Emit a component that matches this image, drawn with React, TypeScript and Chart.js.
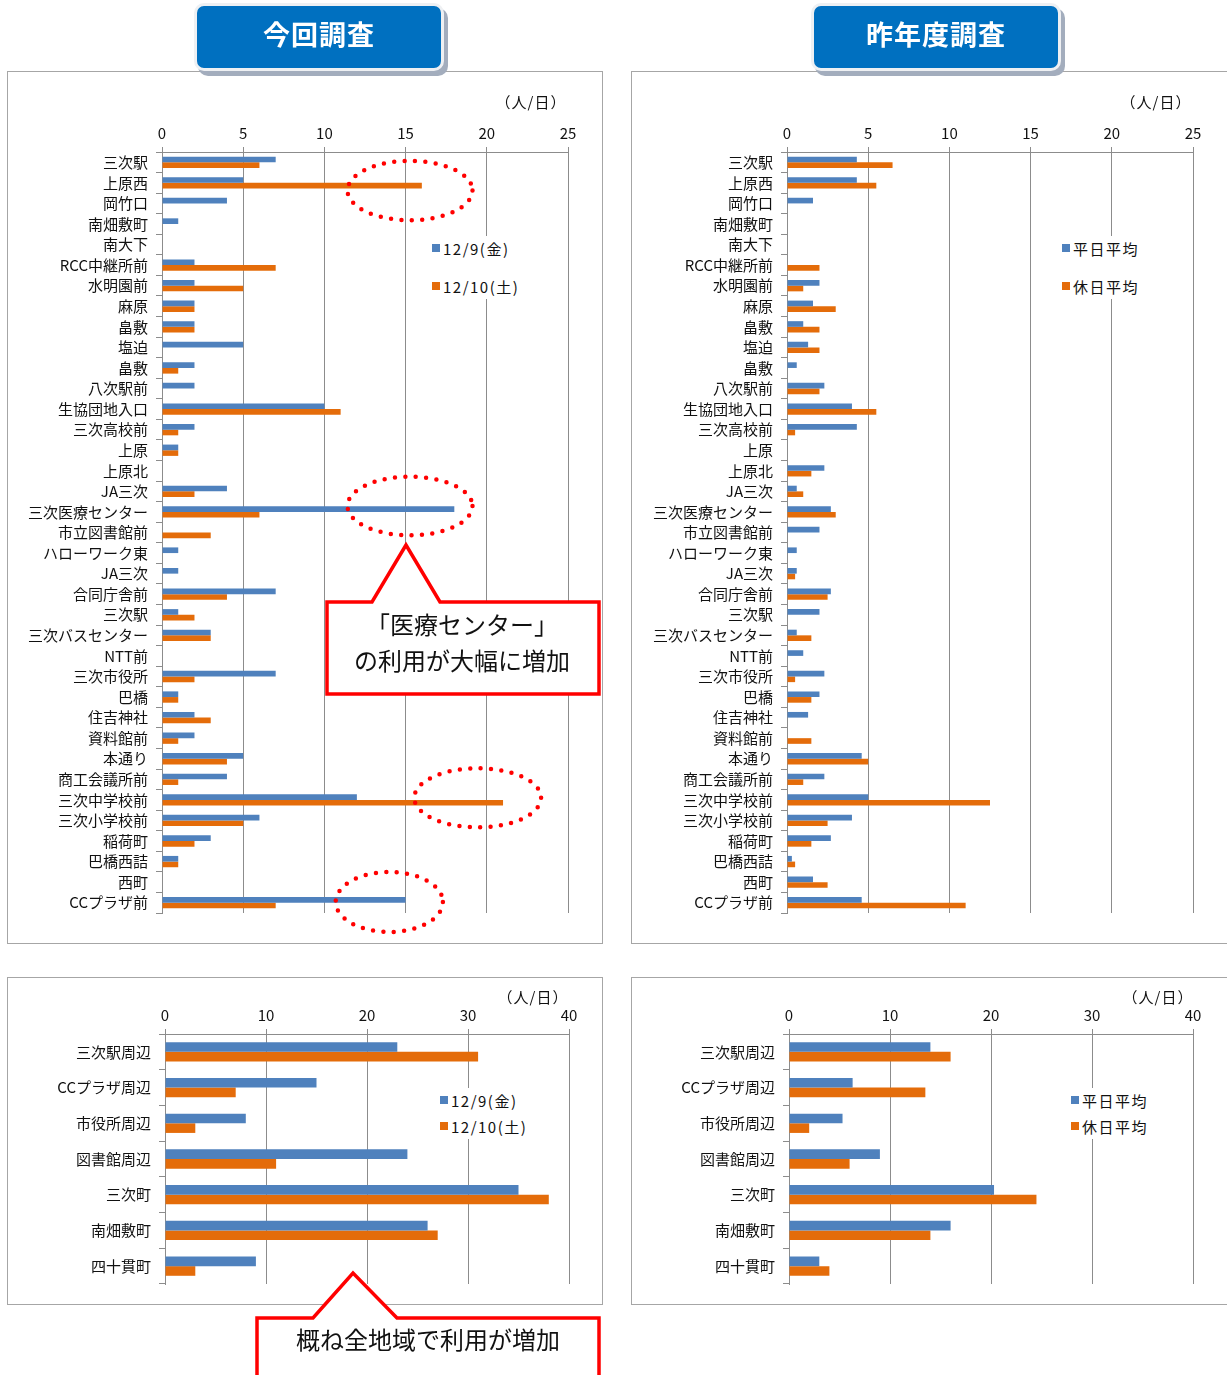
import React, { useEffect, useRef } from "react";
import { Chart, registerables } from "chart.js";

Chart.register(...registerables);

const FONT = "'Noto Sans CJK JP', 'Noto Sans', sans-serif";
const BLUE = "#4F81BD";
const ORANGE = "#E46C0A";
const GRID = "#8c8c8c";

// ---- data ----
const stopLabels = [
  "三次駅", "上原西", "岡竹口", "南畑敷町", "南大下", "RCC中継所前", "水明園前", "麻原", "畠敷", "塩迫",
  "畠敷", "八次駅前", "生協団地入口", "三次高校前", "上原", "上原北", "JA三次", "三次医療センター", "市立図書館前", "ハローワーク東",
  "JA三次", "合同庁舎前", "三次駅", "三次バスセンター", "NTT前", "三次市役所", "巴橋", "住吉神社", "資料館前", "本通り",
  "商工会議所前", "三次中学校前", "三次小学校前", "稲荷町", "巴橋西詰", "西町", "CCプラザ前",
];
const stopFri = [7, 5, 4, 1, 0, 2, 2, 2, 2, 5, 2, 2, 10, 2, 1, 0, 4, 18, 0, 1, 1, 7, 1, 3, 0, 7, 1, 2, 2, 5, 4, 12, 6, 3, 1, 0, 15];
const stopSat = [6, 16, 0, 0, 0, 7, 5, 2, 2, 0, 1, 0, 11, 1, 1, 0, 2, 6, 3, 0, 0, 4, 2, 3, 0, 2, 1, 3, 1, 4, 1, 21, 5, 2, 1, 0, 7];
const stopWeekday = [4.3, 4.3, 1.6, 0, 0, 0, 2, 1.6, 1, 1.3, 0.6, 2.3, 4, 4.3, 0, 2.3, 0.6, 2.7, 2, 0.6, 0.6, 2.7, 2, 0.6, 1, 2.3, 2, 1.3, 0, 4.6, 2.3, 5, 4, 2.7, 0.3, 1.6, 4.6];
const stopHoliday = [6.5, 5.5, 0, 0, 0, 2, 1, 3, 2, 2, 0, 2, 5.5, 0.5, 0, 1.5, 1, 3, 0, 0, 0.5, 2.5, 0, 1.5, 0, 0.5, 1.5, 0, 1.5, 5, 1, 12.5, 2.5, 1.5, 0.5, 2.5, 11];

const areaLabels = ["三次駅周辺", "CCプラザ周辺", "市役所周辺", "図書館周辺", "三次町", "南畑敷町", "四十貫町"];
const areaFri = [23, 15, 8, 24, 35, 26, 9];
const areaSat = [31, 7, 3, 11, 38, 27, 3];
const areaWeekday = [14, 6.3, 5.3, 9, 20.3, 16, 3];
const areaHoliday = [16, 13.5, 2, 6, 24.5, 14, 4];

const stopAxisMax = 25;
const stopAxisStep = 5;
const areaAxisMax = 40;
const areaAxisStep = 10;

const namesThis = ["12/9(金)", "12/10(土)"];
const namesLast = ["平日平均", "休日平均"];
const unitLabel = "（人/日）";

type Area = { left: number; top: number; right: number; bottom: number };

function HBar(props: {
  left: number; top: number; width: number; height: number; area: Area;
  labels: string[]; a: number[]; b: number[]; max: number; step: number; catPct: number;
}) {
  const ref = useRef<HTMLCanvasElement>(null);
  useEffect(() => {
    const { left, top, width, height, area, labels, a, b, max, step, catPct } = props;
    const yW = area.left - left;
    const xH = area.top - top;
    Chart.defaults.font.family = FONT;
    const chart = new Chart(ref.current!, {
      type: "bar",
      data: {
        labels,
        datasets: [
          { data: a, backgroundColor: BLUE, borderWidth: 0, categoryPercentage: catPct, barPercentage: 1 },
          { data: b, backgroundColor: ORANGE, borderWidth: 0, categoryPercentage: catPct, barPercentage: 1 },
        ],
      },
      options: {
        indexAxis: "y",
        responsive: false,
        animation: false,
        layout: { padding: { left: 0, top: 0, right: left + width - area.right, bottom: top + height - area.bottom } },
        plugins: { legend: { display: false }, tooltip: { enabled: false } },
        scales: {
          x: {
            position: "top",
            min: 0,
            max,
            ticks: { stepSize: step, color: "#111", font: { size: 15 }, padding: 5, maxRotation: 0 },
            grid: { color: GRID, tickLength: 5 },
            border: { color: GRID },
            afterFit: (s: any) => { s.height = xH; },
          },
          y: {
            ticks: { color: "#111", font: { size: 15 }, padding: 8, autoSkip: false },
            grid: { drawOnChartArea: false, offset: true, tickLength: 6, color: GRID },
            border: { color: GRID },
            afterFit: (s: any) => { s.width = yW; },
          },
        },
      } as any,
    });
    return () => chart.destroy();
  }, []);
  return (
    <canvas
      ref={ref}
      width={props.width}
      height={props.height}
      style={{ position: "absolute", left: props.left, top: props.top, width: props.width, height: props.height }}
    />
  );
}

function Legend(props: { x: number; ys: number[]; names: string[]; bg: Area }) {
  const colors = [BLUE, ORANGE];
  return (
    <>
      <div style={{ position: "absolute", left: props.bg.left, top: props.bg.top, width: props.bg.right - props.bg.left, height: props.bg.bottom - props.bg.top, background: "#fff" }} />
      {props.names.map((n, i) => (
        <div key={i} style={{ position: "absolute", left: props.x, top: props.ys[i] - 11, height: 22, display: "flex", alignItems: "center", fontFamily: FONT, fontSize: 15, color: "#111", whiteSpace: "nowrap", letterSpacing: 1.5 }}>
          <span style={{ display: "inline-block", width: 8, height: 8, background: colors[i], marginRight: 3 }} />
          {n}
        </div>
      ))}
    </>
  );
}

function Unit(props: { cx: number; cy: number }) {
  return (
    <div style={{ position: "absolute", left: props.cx - 45, top: props.cy - 11, width: 90, height: 22, textAlign: "center", lineHeight: "22px", fontFamily: FONT, fontSize: 15, letterSpacing: 1, color: "#111" }}>
      {unitLabel}
    </div>
  );
}

function Header(props: { left: number; text: string }) {
  return (
    <div style={{
      position: "absolute", left: props.left, top: 3, width: 244, height: 62, background: "#0070C0",
      borderRadius: 10, border: "3px solid #eef0f3", boxShadow: "4px 5px 0 #a3adbd",
      color: "#fff", fontFamily: FONT, fontWeight: 700, fontSize: 27, letterSpacing: 1,
      display: "flex", alignItems: "center", justifyContent: "center", boxSizing: "content-box",
    }}>
      <span style={{ position: "relative", top: -4 }}>{props.text}</span>
    </div>
  );
}

function Panel(props: { left: number; top: number; width: number; height: number }) {
  return <div style={{ position: "absolute", left: props.left, top: props.top, width: props.width, height: props.height, border: "1px solid #a6a6a6", boxSizing: "border-box", background: "#fff" }} />;
}

export default function App() {
  return (
    <div style={{ position: "absolute", left: 0, top: 0, width: 1227, height: 1375, overflow: "hidden", background: "#fff" }}>
      <Panel left={7} top={71} width={596} height={873} />
      <Panel left={631} top={71} width={610} height={873} />
      <Panel left={7} top={977} width={596} height={328} />
      <Panel left={631} top={977} width={610} height={328} />

      <HBar left={8} top={72} width={593} height={870} area={{ left: 162, top: 152, right: 568, bottom: 913 }}
        labels={stopLabels} a={stopFri} b={stopSat} max={stopAxisMax} step={stopAxisStep} catPct={0.55} />
      <HBar left={632} top={72} width={594} height={870} area={{ left: 787, top: 152, right: 1193, bottom: 913 }}
        labels={stopLabels} a={stopWeekday} b={stopHoliday} max={stopAxisMax} step={stopAxisStep} catPct={0.55} />
      <HBar left={8} top={978} width={593} height={325} area={{ left: 165, top: 1034, right: 569, bottom: 1284 }}
        labels={areaLabels} a={areaFri} b={areaSat} max={areaAxisMax} step={areaAxisStep} catPct={0.54} />
      <HBar left={632} top={978} width={594} height={325} area={{ left: 789, top: 1034, right: 1193, bottom: 1284 }}
        labels={areaLabels} a={areaWeekday} b={areaHoliday} max={areaAxisMax} step={areaAxisStep} catPct={0.54} />

      <Legend x={432} ys={[248, 286]} names={namesThis} bg={{ left: 428, top: 236, right: 530, bottom: 299 }} />
      <Legend x={1062} ys={[248, 286]} names={namesLast} bg={{ left: 1058, top: 236, right: 1145, bottom: 299 }} />
      <Legend x={440} ys={[1100, 1126]} names={namesThis} bg={{ left: 436, top: 1088, right: 533, bottom: 1139 }} />
      <Legend x={1071} ys={[1100, 1126]} names={namesLast} bg={{ left: 1067, top: 1088, right: 1150, bottom: 1139 }} />

      <Unit cx={531} cy={102} />
      <Unit cx={1156} cy={102} />
      <Unit cx={533} cy={997} />
      <Unit cx={1158} cy={997} />

      <Header left={194} text="今回調査" />
      <Header left={811} text="昨年度調査" />

      <svg width={1227} height={1375} style={{ position: "absolute", left: 0, top: 0, pointerEvents: "none" }}>
        {[
          [410, 190.5, 62.5, 29.7],
          [410, 506, 62.5, 29.3],
          [477.7, 797.8, 63.4, 29.5],
          [389.3, 902, 53.6, 30],
        ].map((e, i) => (
          <ellipse key={i} cx={e[0]} cy={e[1]} rx={e[2]} ry={e[3]} fill="none" stroke="#FF0000" strokeWidth={4.5}
            strokeDasharray="0 10.4" strokeLinecap="round" />
        ))}
        <path d="M327,602 L372,602 L406,545 L440,602 L599,602 L599,694 L327,694 Z" fill="#fff" stroke="#FF0000" strokeWidth={3.5} strokeLinejoin="miter" />
        <text x={462} y={634} textAnchor="middle" fontFamily={FONT} fontSize={24} fill="#111">「医療センター」</text>
        <text x={462} y={670} textAnchor="middle" fontFamily={FONT} fontSize={24} fill="#111">の利用が大幅に増加</text>
        <path d="M257,1318 L313,1318 L353,1273 L397,1318 L599,1318 L599,1395 L257,1395 Z" fill="#fff" stroke="#FF0000" strokeWidth={3.5} />
        <text x={428} y={1349} textAnchor="middle" fontFamily={FONT} fontSize={24} fill="#111">概ね全地域で利用が増加</text>
      </svg>
    </div>
  );
}
